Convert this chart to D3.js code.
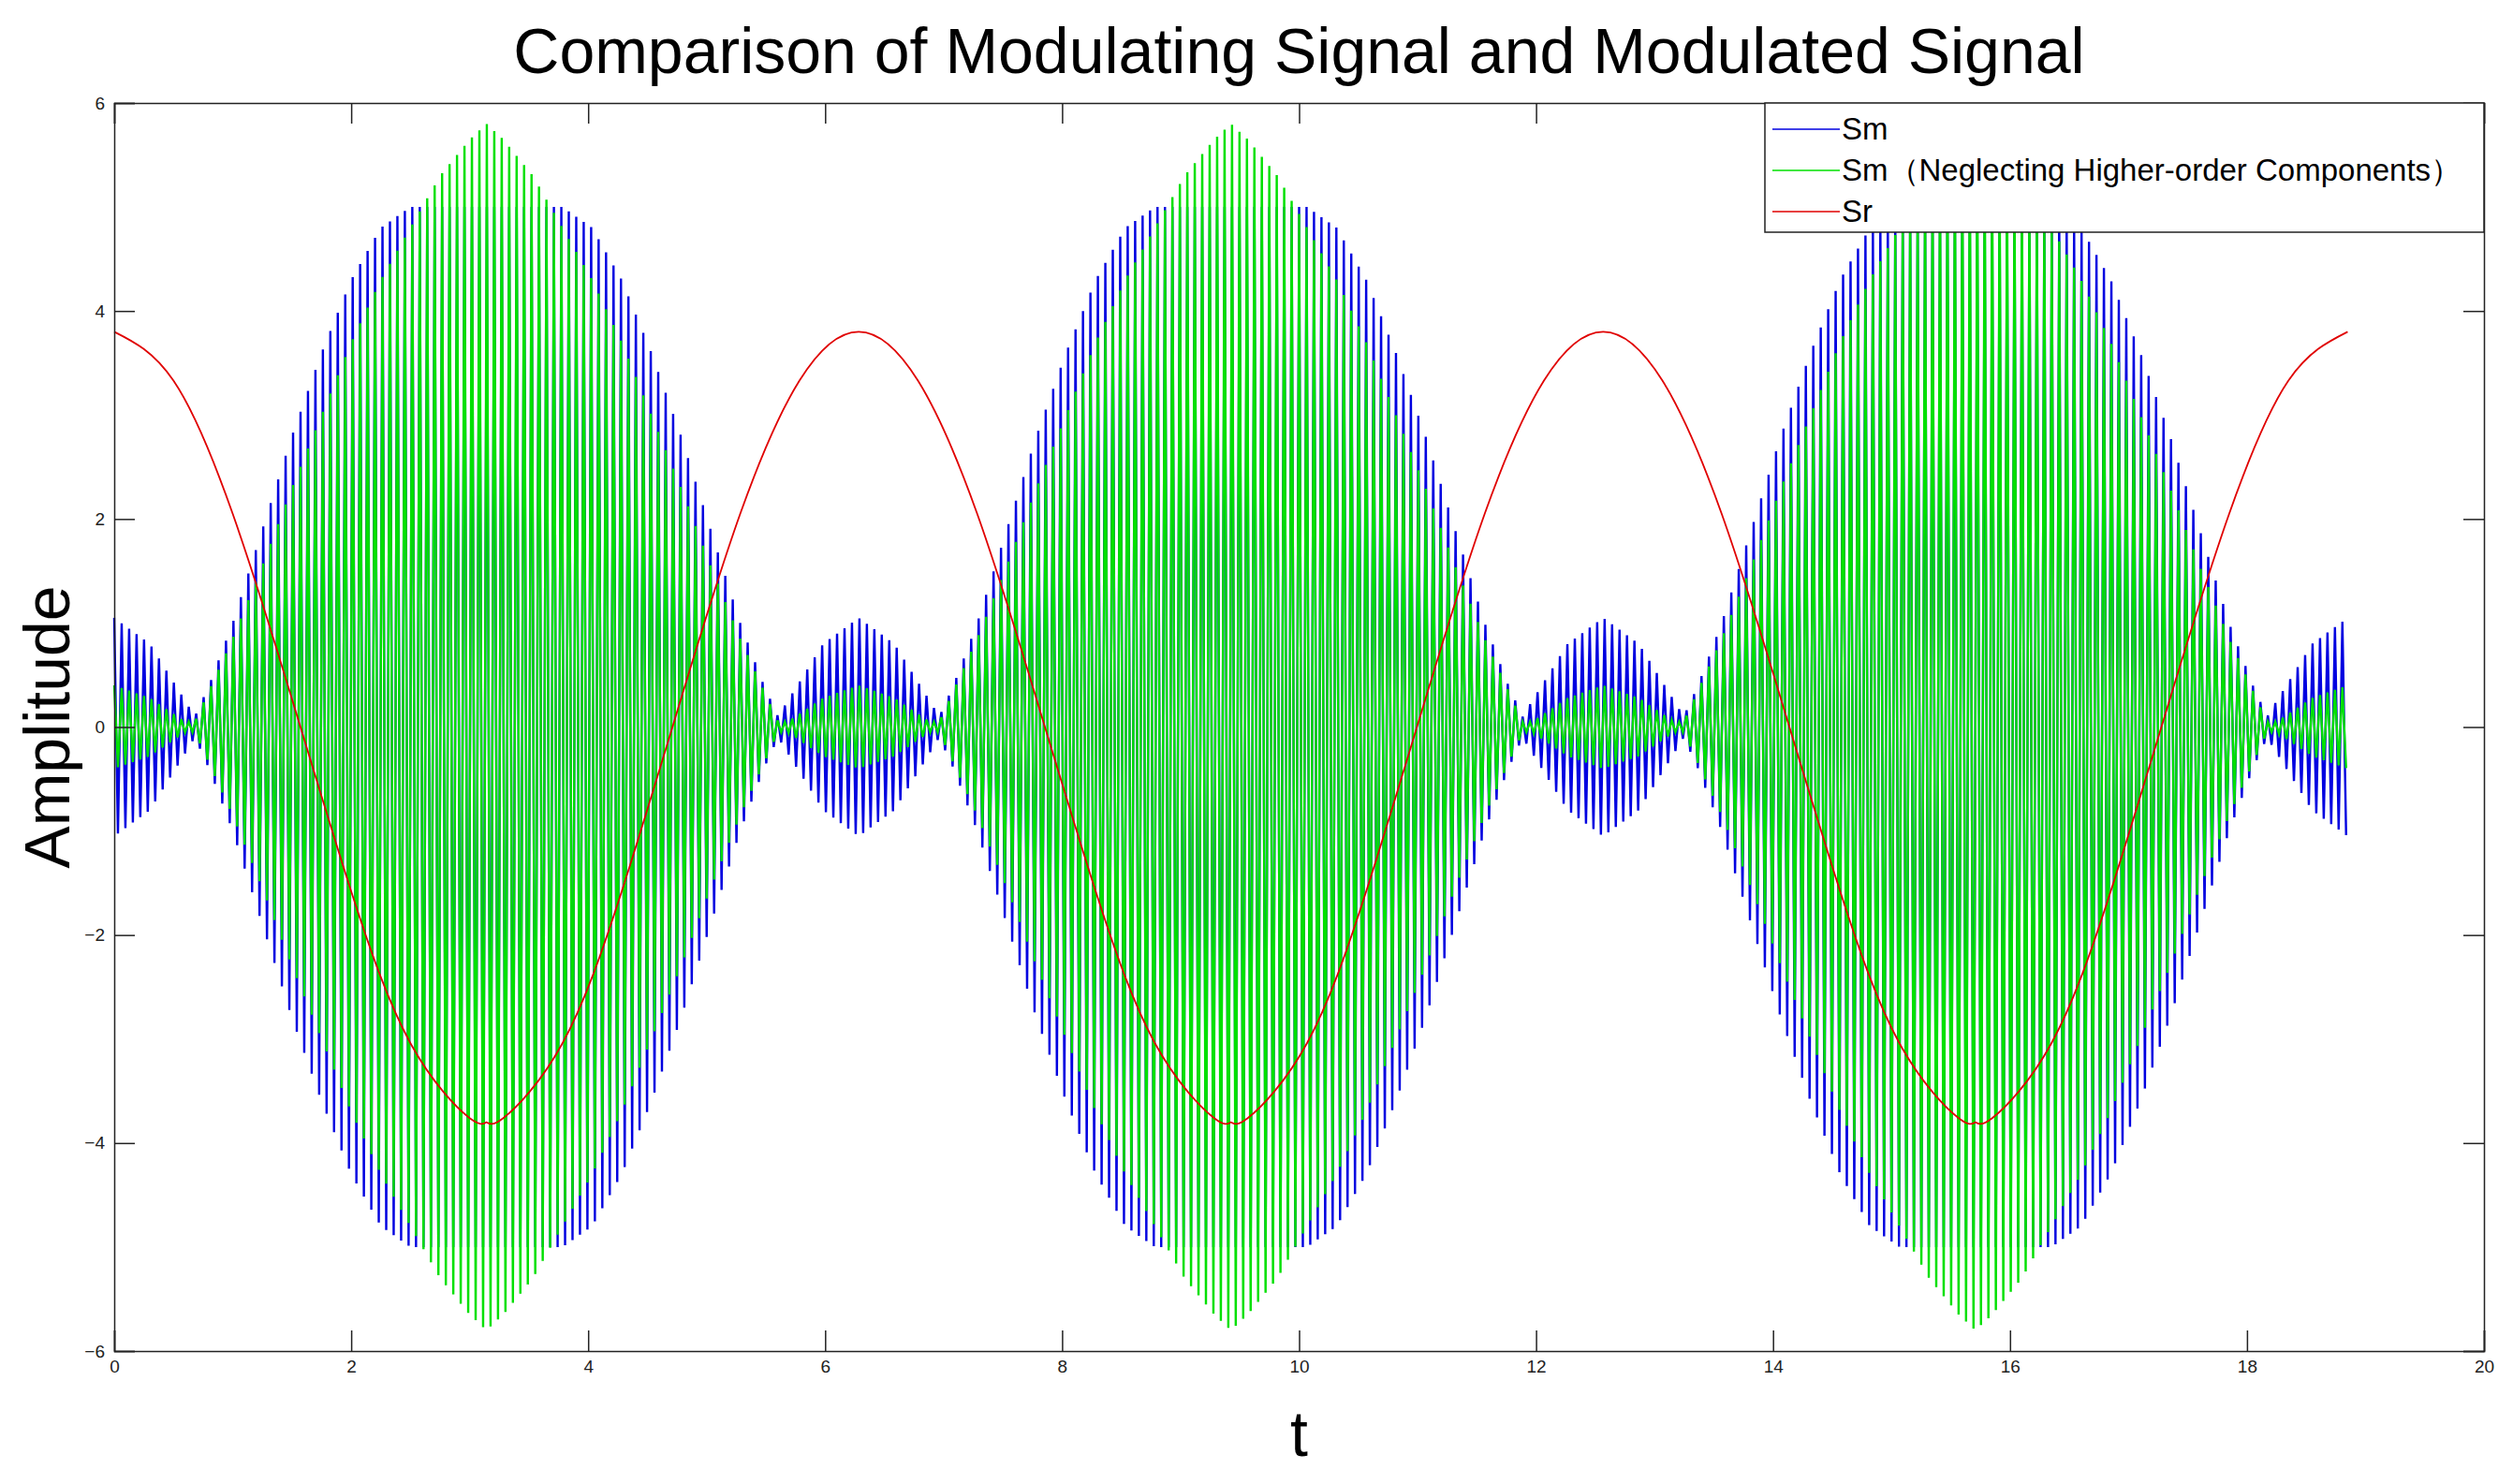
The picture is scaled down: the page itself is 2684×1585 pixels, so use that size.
<!DOCTYPE html>
<html><head><meta charset="utf-8">
<script src="https://cdn.jsdelivr.net/npm/d3@7"></script>
<style>body{margin:0;background:#fff}svg{font-family:"Liberation Sans",Arial,sans-serif}</style>
</head><body><div id="container"></div>
<script>
/* DATA (one half-period of the modulating signal) */
const period = 6.2832, periods = 3, carrierHz = 15.9;
const envT    = [0, 0.3, 0.6, 0.68, 0.8, 1.0, 1.25, 1.5, 1.75, 2.0, 2.25, 2.5, 2.75, 3.0, 3.1416];
const smEnv   = [1.05, 0.8, 0.25, 0.1, 0.4, 1.0, 1.9, 2.8, 3.6, 4.3, 4.8, 5, 5, 5, 5];
const smNhEnv = [0.4, 0.28, 0.05, 0.05, 0.35, 0.85, 1.55, 2.3, 3.0, 3.7, 4.3, 4.8, 5.3, 5.65, 5.8];
const srT     = [0, 0.5, 1, 1.5, 2, 2.5, 3, 3.1416];
const srVal   = [3.8, 3.33, 2.05, 0.27, -1.58, -3.04, -3.76, -3.8];
const xTicks = [0, 2, 4, 6, 8, 10, 12, 14, 16, 18, 20];
const yTicks = [-6, -4, -2, 0, 2, 4, 6];
const legendLabels = ["Sm", "Sm（Neglecting Higher-order Components）", "Sr"];
const colors = ["#0000e0", "#00e000", "#e00000"];

const W = 2684, H = 1585, m = {l: 122, r: 31, t: 110, b: 142};
const iw = W - m.l - m.r, ih = H - m.t - m.b;

const x = d3.scaleLinear().domain([0, 20]).range([0, iw]);
const y = d3.scaleLinear().domain([-6, 6]).range([ih, 0]);

const svg = d3.select("#container").append("svg").attr("width", W).attr("height", H);
const g = svg.append("g").attr("transform", `translate(${m.l},${m.t})`);

// mirror a half-period of knots to a full period, then repeat it
function tile(ts, vs) {
  const t1 = ts.slice(), v1 = vs.slice();
  for (let i = ts.length - 2; i >= 0; i--) { t1.push(period - ts[i]); v1.push(vs[i]); }
  const T = [], V = [];
  for (let p = 0; p < periods; p++) t1.forEach((t, i) => { if (p && i === 0) return; T.push(t + p * period); V.push(v1[i]); });
  return d3.scaleLinear().domain(T).range(V);
}
const smScale = tile(envT, smEnv), smNhScale = tile(envT, smNhEnv), srScale = tile(srT, srVal);
const tEnd = period * periods;

const peaks = d3.range(0, Math.floor(tEnd * carrierHz * 2) + 1).map(k => k / (carrierHz * 2));
const line = d3.line().x(d => x(d[0])).y(d => y(d[1]));
const sm = peaks.map((t, k) => [t, (k % 2 ? -1 : 1) * smScale(t)]);
const smNh = peaks.map((t, k) => [t, (k % 2 ? -1 : 1) * smNhScale(t)]);
const srKnots = srScale.domain().map((t, i) => [t, srScale.range()[i]]);

g.append("path").attr("d", line(sm)).attr("fill", "none").attr("stroke", colors[0]).attr("stroke-width", 2.4);
g.append("path").attr("d", line(smNh)).attr("fill", "none").attr("stroke", colors[1]).attr("stroke-width", 2.4);
g.append("path").attr("d", d3.line().curve(d3.curveNatural).x(d => x(d[0])).y(d => y(d[1]))(srKnots))
  .attr("fill", "none").attr("stroke", colors[2]).attr("stroke-width", 1.8);

// axes (box with inward ticks)
const tl = 22;
const fmt = d3.format("d");
g.append("g").attr("transform", `translate(0,${ih})`).call(d3.axisBottom(x).tickValues(xTicks).tickSize(-tl).tickPadding(10).tickFormat(fmt));
g.append("g").call(d3.axisTop(x).tickValues(xTicks).tickSize(-tl).tickFormat(""));
g.append("g").call(d3.axisLeft(y).tickValues(yTicks).tickSize(-tl).tickPadding(10).tickFormat(fmt));
g.append("g").attr("transform", `translate(${iw},0)`).call(d3.axisRight(y).tickValues(yTicks).tickSize(-tl).tickFormat(""));
g.selectAll(".domain").attr("stroke", "#222").attr("stroke-width", 1.5);
g.selectAll(".tick line").attr("stroke", "#222").attr("stroke-width", 1.5);
g.selectAll(".tick text").attr("font-size", 19).attr("fill", "#222").attr("font-family", "Liberation Sans");

svg.append("text").attr("x", m.l + iw / 2).attr("y", 78).attr("text-anchor", "middle").attr("font-size", 68).text("Comparison of Modulating Signal and Modulated Signal");
svg.append("text").attr("x", m.l + iw / 2).attr("y", 1555).attr("text-anchor", "middle").attr("font-size", 68).text("t");
svg.append("text").attr("transform", `translate(74,${m.t + ih / 2}) rotate(-90)`).attr("text-anchor", "middle").attr("font-size", 68).text("Amplitude");

// legend
const lg = svg.append("g").attr("transform", `translate(1885,${m.t})`);
lg.append("rect").attr("width", W - m.r - 1885).attr("height", 138).attr("fill", "#fff").attr("stroke", "#222").attr("stroke-width", 1.5);
legendLabels.forEach((s, i) => {
  const yy = 28 + i * 44;
  lg.append("line").attr("x1", 8).attr("x2", 80).attr("y1", yy).attr("y2", yy).attr("stroke", colors[i]).attr("stroke-width", 1.6);
  lg.append("text").attr("x", 82).attr("y", yy + 11).attr("font-size", 33).text(s);
});
</script></body></html>
